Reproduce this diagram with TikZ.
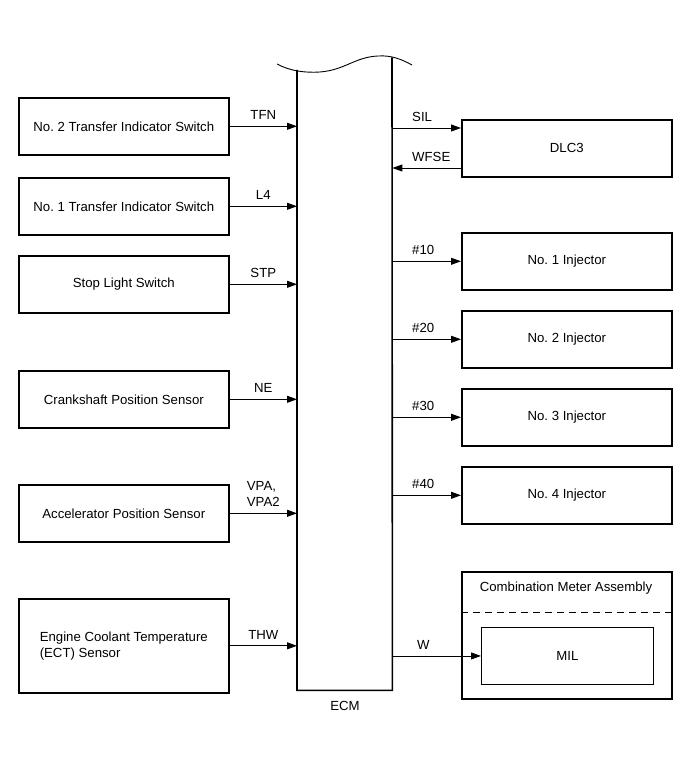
\documentclass[tikz,border=0pt]{standalone}
\usepackage{fontspec}
\setmainfont{Liberation Sans}
\usetikzlibrary{arrows.meta}
\frenchspacing
\begin{document}
\begin{tikzpicture}[x=1pt,y=-1pt,
  font=\fontsize{13.2}{16}\selectfont,
  blk/.style={draw,line width=1.6pt,minimum width=210pt,minimum height=57pt,inner sep=2pt,anchor=north west},
  sig/.style={line width=0.9pt,-{Triangle[length=10pt,width=7pt]}},
  lbl/.style={inner sep=0pt,anchor=south},
  rlbl/.style={inner sep=0pt,anchor=south west}]
\useasboundingbox (0,0) rectangle (690,757);
% ECM
\node[minimum width=95pt,minimum height=620pt,inner sep=0pt,anchor=north west] (ecm) at (297,70) {};
\coordinate (wl) at (277,64);
\coordinate (wr) at (412,65);
\coordinate (ecmtl) at (297,70);
\coordinate (ecmtr) at (392,57.5);
\draw[line width=0.9pt] (wl) .. controls (290,71) and (305,73) .. (320,72) .. controls (345,70) and (355,57) .. (378,56) .. controls (392,55) and (403,60) .. (wr);
\draw[line width=1.6pt] (ecmtl) -- (ecm.south west) -- (ecm.south east) -- (ecmtr);
\node[anchor=north,inner sep=0pt] (ecml) at (345,701) {ECM};
% left boxes
\node[blk] (b1) at (18,97) {No. 2 Transfer Indicator Switch};
\node[blk] (b2) at (18,177) {No. 1 Transfer Indicator Switch};
\node[blk] (b3) at (18,255) {Stop Light Switch};
\node[blk] (b4) at (18,370) {Crankshaft Position Sensor};
\node[blk] (b5) at (18,484) {Accelerator Position Sensor};
\node[blk,minimum height=94pt,align=left] (b6) at (18,598) {Engine Coolant Temperature\\(ECT) Sensor};
\draw[sig] (b1.east) -- (b1.east -| ecm.west) node[lbl,midway,yshift=6pt] (l1) {TFN};
\draw[sig] (b2.east) -- (b2.east -| ecm.west) node[lbl,midway,yshift=6pt] (l2) {L4};
\draw[sig] (b3.east) -- (b3.east -| ecm.west) node[lbl,midway,yshift=6pt] (l3) {STP};
\draw[sig] (b4.east) -- (b4.east -| ecm.west) node[lbl,midway,yshift=6pt] (l4) {NE};
\draw[sig] (b5.east) -- (b5.east -| ecm.west) node[lbl,midway,yshift=6pt,align=left] (l5) {VPA,\\VPA2};
\draw[sig] (b6.east) -- (b6.east -| ecm.west) node[lbl,midway,yshift=6pt] (l6) {THW};
% right boxes
\node[blk] (dlc) at (461,119) {DLC3};
\node[blk] (i1) at (461,232) {No. 1 Injector};
\node[blk] (i2) at (461,310) {No. 2 Injector};
\node[blk] (i3) at (461,388) {No. 3 Injector};
\node[blk] (i4) at (461,466) {No. 4 Injector};
\coordinate (silp) at (461,128);
\coordinate (wfsep) at (461,168);
\draw[sig] (ecm.east |- silp) -- (silp);
\node[rlbl] (lsil) at (412,122) {SIL};
\draw[sig] (wfsep) -- (ecm.east |- wfsep);
\node[rlbl] (lwfse) at (412,162) {WFSE};
\draw[sig] (ecm.east |- i1.west) -- (i1.west);
\node[rlbl] (l10) at (412,255) {\#10};
\draw[sig] (ecm.east |- i2.west) -- (i2.west);
\node[rlbl] (l20) at (412,333) {\#20};
\draw[sig] (ecm.east |- i3.west) -- (i3.west);
\node[rlbl] (l30) at (412,411) {\#30};
\draw[sig] (ecm.east |- i4.west) -- (i4.west);
\node[rlbl] (l40) at (412,489) {\#40};
% combination meter
\node[blk,minimum height=127pt] (cm) at (461,571) {};
\node[anchor=center,inner sep=0pt] (cmt) at (566,588) {Combination Meter Assembly};
\coordinate (dl) at (461,612);
\coordinate (dr) at (671,612);
\draw[line width=0.9pt,dash pattern=on 7pt off 5pt] (dl) -- (dr);
\node[draw,line width=0.9pt,minimum width=172pt,minimum height=57pt,anchor=north west] (mil) at (481,627) {MIL};
\draw[sig] (ecm.east |- mil.west) -- (mil.west);
\node[rlbl] (lw) at (417,650) {W};
\end{tikzpicture}
\end{document}
